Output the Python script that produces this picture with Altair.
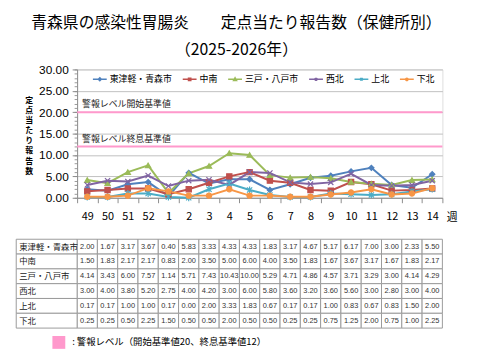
import altair as alt
import pandas as pd

weeks = ["49", "50", "51", "52", "1", "2", "3", "4", "5", "6", "7", "8", "9", "10", "11", "12", "13", "14"]
series = ["東津軽・青森市", "中南", "三戸・八戸市", "西北", "上北", "下北"]
colors = ["#4F81BD", "#C0504D", "#9BBB59", "#8064A2", "#4BACC6", "#F79646"]

v_higashitsugaru = [2.00, 1.67, 3.17, 3.67, 0.40, 5.83, 3.33, 4.33, 4.33, 1.83, 3.17, 4.67, 5.17, 6.17, 7.00, 3.00, 2.33, 5.50]
v_chunan = [1.50, 1.83, 2.17, 2.17, 0.83, 2.00, 3.50, 5.00, 6.00, 4.00, 3.50, 1.83, 1.67, 3.67, 3.17, 1.67, 1.83, 2.17]
v_sannohe = [4.14, 3.43, 6.00, 7.57, 1.14, 5.71, 7.43, 10.43, 10.00, 5.29, 4.71, 4.86, 4.57, 3.71, 3.29, 3.00, 4.14, 4.29]
v_seihoku = [3.00, 4.00, 3.80, 5.20, 2.75, 4.00, 4.20, 3.00, 6.00, 5.80, 3.60, 3.20, 3.60, 5.60, 3.00, 2.80, 3.00, 4.00]
v_kamikita = [0.17, 0.17, 1.00, 1.00, 0.17, 0.00, 2.00, 3.33, 1.83, 0.67, 0.17, 0.17, 1.00, 0.83, 0.67, 0.83, 1.50, 2.00]
v_shimokita = [0.25, 0.25, 0.50, 2.25, 1.50, 0.50, 0.50, 2.00, 0.50, 0.50, 0.25, 0.25, 0.75, 1.25, 2.00, 0.75, 1.00, 2.25]
all_values = [v_higashitsugaru, v_chunan, v_sannohe, v_seihoku, v_kamikita, v_shimokita]

thresholds = [20, 12]
threshold_labels = ["警報レベル開始基準値", "警報レベル終息基準値"]
note_label = ": 警報レベル（開始基準値20、終息基準値12）"
y_ticks = [0, 5, 10, 15, 20, 25, 30]
y_minor = list(range(0, 31))

JP = "Noto Sans CJK JP"
PINK = "#FF99CC"

rows = []
for r, (s, vals) in enumerate(zip(series, all_values)):
    for c, (w, v) in enumerate(zip(weeks, vals)):
        rows.append({"series": s, "week": w, "col": c, "col2": c + 1, "colc": c + 0.5,
                     "row": r, "row2": r + 1, "rowc": r + 0.5, "value": v, "label": f"{v:.2f}"})
df = pd.DataFrame(rows)

lab_df = pd.DataFrame({"series": series, "row": list(range(len(series))),
                       "row2": [i + 1 for i in range(len(series))],
                       "rowc": [i + 0.5 for i in range(len(series))],
                       "c0": [-3.0] * len(series), "c1": [0.0] * len(series)})
thr_df = pd.DataFrame({"value": thresholds, "label": threshold_labels, "week": [weeks[0]] * 2})
note_df = pd.DataFrame({"note": [note_label]})


def xs():
    return alt.Scale(type="band", domain=weeks, paddingInner=0, paddingOuter=0)


def ys():
    return alt.Scale(domain=[0, 30], nice=False, zero=True)


tx = alt.Scale(domain=[0, 18], nice=False, zero=False)
ty = alt.Scale(domain=[0, 6], nice=False, zero=False, range=[172, 262])

# pink alarm lines + minor y ticks
rules = alt.Chart(thr_df).mark_rule(color=PINK, strokeWidth=2).encode(
    y=alt.Y("value:Q", scale=ys(), axis=alt.Axis(orient="left", values=y_minor, labels=False, grid=False,
                                                 domain=False, ticks=True, tickSize=3, tickColor="#9a9a9a",
                                                 title=None))
)

thr_text = alt.Chart(thr_df).mark_text(align="left", baseline="bottom", dx=5, dy=-3, fontSize=9,
                                       font=JP, color="#222222").encode(
    x=alt.X("week:N", scale=xs(), axis=None, bandPosition=0),
    y=alt.Y("value:Q", scale=ys(), axis=None),
    text="label:N",
)

lines = alt.Chart(df).mark_line(strokeWidth=2).encode(
    x=alt.X("week:N", scale=xs(), sort=weeks,
            axis=alt.Axis(orient="bottom", tickBand="extent", labelAngle=0, grid=False, domainColor="#8c8c8c",
                          tickColor="#8c8c8c", tickSize=5, labelFontSize=11, labelColor="black",
                          labelPadding=8, labelFont=JP, title="週", titleX=374, titleY=20,
                          titleAlign="left", titleBaseline="middle", titleFontWeight="normal",
                          titleFontSize=11, titleFont=JP, titleColor="black")),
    y=alt.Y("value:Q", scale=ys(),
            axis=alt.Axis(orient="left", values=y_ticks, format=".2f", grid=True, gridColor="#c0c0c0", gridWidth=1,
                          domainColor="#8c8c8c", tickColor="#8c8c8c", tickSize=5, labelPadding=4,
                          labelFontSize=12, labelColor="black", labelFont="Liberation Sans",
                          title=list("定点当たり報告数"), titleAngle=0, titleX=-49, titleY=27,
                          titleBaseline="top", titleAlign="center", titleFontWeight="bold",
                          titleFontSize=8, titleLineHeight=10.3, titleFont=JP, titleColor="black")),
    color=alt.Color("series:N", scale=alt.Scale(domain=series, range=colors), legend=None),
    detail="series:N",
)

chart_shapes = ["diamond", "square", "triangle-up",
                "M-1,-1L1,1M-1,1L1,-1",
                "M-1,-1L1,1M-1,1L1,-1M0,-1.3L0,1.3",
                "circle"]
points = alt.Chart(df).mark_point(filled=True, opacity=1, size=28, strokeWidth=1.2).encode(
    x=alt.X("week:N", scale=xs(), axis=None),
    y=alt.Y("value:Q", scale=ys(), axis=None),
    shape=alt.Shape("series:N", scale=alt.Scale(domain=series, range=chart_shapes), legend=None),
    fill=alt.Fill("series:N", scale=alt.Scale(domain=series, range=colors), legend=None),
    stroke=alt.Stroke("series:N", scale=alt.Scale(domain=series, range=colors), legend=None),
)

legend_shapes = [
    "M-1,0L1,0M0,-0.2L0.2,0L0,0.2L-0.2,0Z",
    "M-1,0L1,0M-0.16,-0.16L0.16,-0.16L0.16,0.16L-0.16,0.16Z",
    "M-1,0L1,0M0,-0.2L0.2,0.15L-0.2,0.15Z",
    "M-1,0L1,0M-0.18,-0.18L0.18,0.18M-0.18,0.18L0.18,-0.18",
    "M-1,0L1,0M-0.18,-0.18L0.18,0.18M-0.18,0.18L0.18,-0.18M0,-0.22L0,0.22",
    "M-1,0L1,0M-0.16,0A0.16,0.16 0 1,0 0.16,0A0.16,0.16 0 1,0 -0.16,0Z",
]
leg = alt.Legend(orient="none", legendX=15, legendY=2, direction="horizontal", title=None,
                 labelFont=JP, labelFontSize=9, labelColor="black", symbolSize=196,
                 symbolStrokeWidth=1.6, labelOffset=2, columnPadding=6)
legend_layer = alt.Chart(df).mark_point(filled=True, opacity=1).encode(
    shape=alt.Shape("series:N", scale=alt.Scale(domain=series, range=legend_shapes), legend=leg),
    fill=alt.Fill("series:N", scale=alt.Scale(domain=series, range=colors), legend=leg),
    stroke=alt.Stroke("series:N", scale=alt.Scale(domain=series, range=colors), legend=leg),
).transform_filter("false")

note_layer = alt.Chart(note_df).mark_square(filled=True, opacity=1).encode(
    color=alt.Color("note:N", scale=alt.Scale(domain=[note_label], range=[PINK]),
                    legend=alt.Legend(orient="none", legendX=-26, legendY=269, title=None,
                                      symbolSize=170, symbolType="square", labelFont=JP,
                                      labelFontSize=9.5, labelColor="black", labelOffset=6,
                                      labelLimit=400))
).transform_filter("false")

# table
cells = alt.Chart(df).mark_rect(fill="white", stroke="#9a9a9a", strokeWidth=1).encode(
    x=alt.X("col:Q", scale=tx, axis=None), x2="col2:Q",
    y=alt.Y("row:Q", scale=ty, axis=None), y2="row2:Q",
)
label_cells = alt.Chart(lab_df).mark_rect(fill="white", stroke="#9a9a9a", strokeWidth=1).encode(
    x=alt.X("c0:Q", scale=tx, axis=None), x2="c1:Q",
    y=alt.Y("row:Q", scale=ty, axis=None), y2="row2:Q",
)
cell_text = alt.Chart(df).mark_text(fontSize=7.5, font="Liberation Sans", color="#333333",
                                    align="center", baseline="middle").encode(
    x=alt.X("colc:Q", scale=tx, axis=None),
    y=alt.Y("rowc:Q", scale=ty, axis=None),
    text="label:N",
)
row_text = alt.Chart(lab_df).mark_text(fontSize=8.5, font=JP, color="#222222",
                                       align="left", baseline="middle", dx=3).encode(
    x=alt.X("c0:Q", scale=tx, axis=None),
    y=alt.Y("rowc:Q", scale=ty, axis=None),
    text="series:N",
)

chart = alt.layer(
    rules, thr_text, lines, points, legend_layer, note_layer,
    cells, label_cells, cell_text, row_text
).resolve_scale(
    x="independent", y="independent", color="independent",
    fill="independent", stroke="independent", shape="independent"
).properties(
    width=370, height=130,
    title=alt.TitleParams(text=["青森県の感染性胃腸炎　　定点当たり報告数（保健所別）", "（2025-2026年）"],
                          anchor="middle", frame="bounds", fontSize=16, font=JP,
                          fontWeight="normal", lineHeight=27, offset=6, color="black"),
    autosize=alt.AutoSizeParams(type="none"),
    padding={"left": 70, "top": 60, "right": 30, "bottom": 155},
).configure_view(stroke=None).configure(font=JP, background="white")

chart.save("out.html", embed_options={"renderer": "svg", "actions": False})
